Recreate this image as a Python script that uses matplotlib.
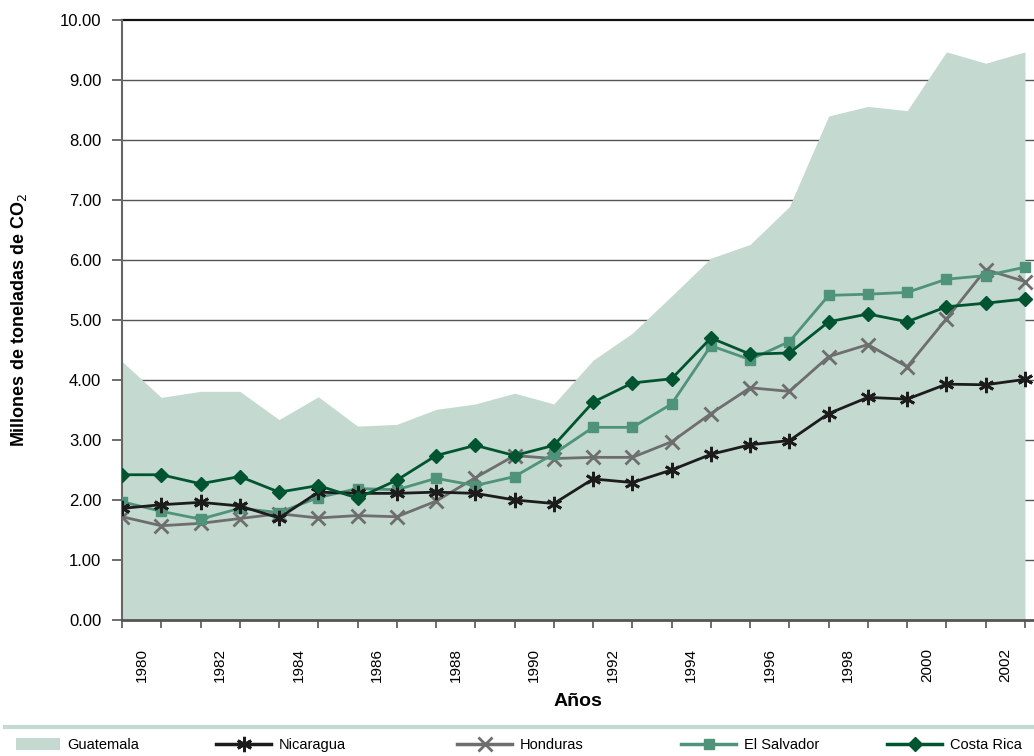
import matplotlib
matplotlib.use("Agg")
import matplotlib.pyplot as plt
from matplotlib.lines import Line2D
from matplotlib.patches import Patch

plt.rcParams['font.family'] = ['Liberation Sans', 'DejaVu Sans']

years = list(range(1980, 2004))
guatemala = [4.31, 3.71, 3.81, 3.81, 3.34, 3.72, 3.23, 3.26, 3.51, 3.60, 3.78, 3.60,
             4.33, 4.78, 5.40, 6.03, 6.26, 6.89, 8.40, 8.56, 8.49, 9.47, 9.28, 9.47]
nicaragua = [1.86, 1.92, 1.96, 1.90, 1.70, 2.13, 2.11, 2.11, 2.13, 2.11, 2.00, 1.94,
             2.35, 2.29, 2.50, 2.76, 2.92, 2.99, 3.44, 3.71, 3.68, 3.93, 3.92, 4.01]
honduras = [1.72, 1.57, 1.61, 1.69, 1.77, 1.70, 1.74, 1.72, 1.98, 2.37, 2.74, 2.69,
            2.71, 2.71, 2.97, 3.44, 3.87, 3.81, 4.39, 4.59, 4.22, 5.02, 5.84, 5.64]
el_salvador = [1.97, 1.81, 1.68, 1.86, 1.79, 2.04, 2.19, 2.17, 2.36, 2.24, 2.39, 2.77,
               3.21, 3.21, 3.60, 4.57, 4.34, 4.64, 5.41, 5.43, 5.46, 5.68, 5.74, 5.88]
costa_rica = [2.42, 2.42, 2.27, 2.39, 2.13, 2.24, 2.03, 2.33, 2.74, 2.91, 2.74, 2.91,
              3.63, 3.95, 4.02, 4.70, 4.43, 4.45, 4.97, 5.10, 4.97, 5.22, 5.28, 5.35]
label_years = list(range(1980, 2003, 2))
y_ticks = list(range(0, 11))

c_area = '#c4d9cf'
c_nic = '#1c1c1c'
c_hon = '#6e6e6e'
c_sal = '#4f937a'
c_cr = '#005530'

fig = plt.figure(figsize=(10.34, 7.56), dpi=100)
ax = fig.add_axes([0.118, 0.180, 0.882, 0.7935])

ax.fill_between(years, 0, guatemala, color=c_area, lw=0, zorder=1)
ax.plot(years, nicaragua, color=c_nic, lw=2, marker=(6, 2, 0), ms=11, mew=2, zorder=4)
ax.plot(years, honduras, color=c_hon, lw=2, marker='x', ms=10, mew=2, zorder=3)
ax.plot(years, el_salvador, color=c_sal, lw=2, marker='s', ms=7, zorder=3)
ax.plot(years, costa_rica, color=c_cr, lw=2, marker='D', ms=7, zorder=5)

ax.set_xlim(1980, 2003.23)
ax.set_ylim(0, 10)

# gridlines (under the area)
for v in y_ticks[1:-1]:
    ax.axhline(v, color='#555555', lw=1, zorder=0)
ax.axhline(10, color='#111111', lw=1.6, zorder=0, clip_on=False)

ax.set_yticks(y_ticks)
ax.set_yticklabels([f"{v:.2f}" for v in y_ticks], fontsize=12)
ax.tick_params(axis='y', length=7, width=1.2, color='#555555', pad=8)

ax.set_xticks(years)
ax.set_xticklabels([])
ax.tick_params(axis='x', which='major', length=6, width=1.2, color='#555555')
ax.set_xticks([y + 0.5 for y in label_years], minor=True)
ax.set_xticklabels([str(y) for y in label_years], minor=True, rotation=90, fontsize=11)
ax.tick_params(axis='x', which='minor', length=0, pad=20)

for s in ['top', 'right']:
    ax.spines[s].set_visible(False)
ax.spines['left'].set_color('#666666')
ax.spines['left'].set_linewidth(1.5)
ax.spines['bottom'].set_color('#555555')
ax.spines['bottom'].set_linewidth(2)

ax.set_xlabel('Años', fontsize=14, fontweight='bold', labelpad=8)
ax.set_ylabel('Millones de toneladas de CO$_2$', fontsize=13, fontweight='bold', labelpad=22)

# separator line above legend
fig.add_artist(Line2D([0.005, 1.0], [1 - 727 / 756] * 2, transform=fig.transFigure,
                      color=c_area, lw=3))

handles = [
    Patch(facecolor=c_area, edgecolor='none'),
    Line2D([], [], color=c_nic, lw=2.5, marker=(6, 2, 0), ms=11, mew=2),
    Line2D([], [], color=c_hon, lw=2.5, marker='x', ms=10, mew=2),
    Line2D([], [], color=c_sal, lw=2.5, marker='s', ms=7),
    Line2D([], [], color=c_cr, lw=2.5, marker='D', ms=7),
]
labels = ['Guatemala', 'Nicaragua', 'Honduras', 'El Salvador', 'Costa Rica']
legend_x = [16, 216, 457, 681, 887]
for h, lab, lx in zip(handles, labels, legend_x):
    hl = 3.0 if isinstance(h, Patch) else 3.8
    fig.legend([h], [lab], loc='center left', bbox_to_anchor=(lx / 1034, 1 - 745 / 756),
               frameon=False, fontsize=10.5, handlelength=hl, handleheight=0.9,
               handletextpad=0.5, borderaxespad=0, borderpad=0)

fig.savefig('out.png', dpi=100)
